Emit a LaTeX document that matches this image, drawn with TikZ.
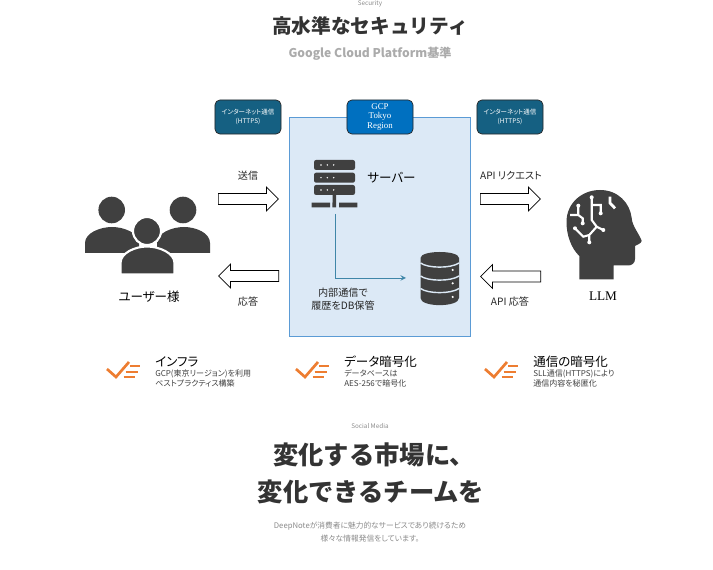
\documentclass[tikz,border=0pt]{standalone}
\usepackage{fontspec}
\setmainfont{Liberation Serif}
\newfontfamily\jpfont[RawFeature=+palt]{Noto Sans CJK JP}
\newfontfamily\headfont{Noto Sans CJK JP}
\usetikzlibrary{arrows,shapes.arrows}
\definecolor{headc}{HTML}{333333}
\definecolor{subc}{HTML}{ABABAB}
\definecolor{smallc}{HTML}{8A8A8A}
\definecolor{iconc}{HTML}{404040}
\definecolor{tealc}{HTML}{156082}
\definecolor{gcpc}{HTML}{0070C0}
\definecolor{regionc}{HTML}{DCE9F6}
\definecolor{regionlinec}{HTML}{5B9BD5}
\definecolor{linkc}{HTML}{3F86A8}
\definecolor{checkc}{HTML}{ED7D31}
\tikzset{
  sizedfont/.style={font=\fontsize{#1}{#1}\selectfont\jpfont},
  headfontsize/.style={font=\fontsize{#1}{#1}\selectfont\headfont\bfseries},
  blockarrow/.style={draw, fill=white, shape=single arrow, anchor=tail, inner sep=0.13cm, minimum height=1.5cm,
    single arrow head extend=0.16cm, single arrow tip angle=90, line width=0.5pt},
  linkbox/.style={draw=black!85, fill=tealc, rounded corners=3.5pt, minimum height=0.85cm, minimum width=1.65cm,
    inner sep=0pt, align=center, text=white, line width=0.5pt, font=\fontsize{4.6}{6.2}\selectfont\jpfont},
  label/.style={sizedfont=7.2, text=black!85, inner sep=0pt, align=center},
  titlelabel/.style={sizedfont=8.9, text=black, inner sep=0pt},
  itemhead/.style={sizedfont=8.9, text=black, anchor=west, inner sep=0pt},
  itemtext/.style={font=\fontsize{5.7}{7.1}\selectfont\jpfont, text=black!75, anchor=north west, inner sep=0pt, align=left},
  checkicon/.pic={
    \draw[checkc, line width=1.9pt] (0,0) -- (9,8) -- (22,-7);
    \draw[checkc, line width=1.5pt] (23,-3) -- (33,-3) (18.5,3) -- (31,3) (16.5,8) -- (28,8);
  },
}
\begin{document}
\begin{tikzpicture}[x=0.025cm,y=-0.025cm]
\useasboundingbox (0,0) rectangle (713,570);

% heading
\node[sizedfont=4.5, text=smallc] (securitytag) at (370,3.5) {Security};
\node[headfontsize=14, text=headc] (sectitle) at (370,26) {高水準なセキュリティ};
\node[sizedfont=8.6, text=subc] (secsub) at (370,53.5) {\bfseries Google Cloud Platform基準};

% region and the boxes on top
\node[draw=regionlinec, fill=regionc, line width=0.7pt, minimum width=4.51cm, minimum height=5.45cm, inner sep=0pt]
(region) at (380,227) {};
\node[linkbox] (linkleft) at (248,117) {インターネット通信\\(HTTPS)};
\node[linkbox] (linkright) at (510,117) {インターネット通信\\(HTTPS)};
\node[linkbox, fill=gcpc, font=\fontsize{6.3}{6.6}\selectfont\setmainfont{Liberation Serif}] (gcpbox) at (380,117)
{GCP\\Tokyo\\Region};

% block arrows
\node[blockarrow] (sendarrow) at (218,199) {};
\node[blockarrow, shape border rotate=180] (replyarrow) at (279,276) {};
\node[blockarrow] (apiarrow) at (480,199) {};
\node[blockarrow, shape border rotate=180] (apireplyarrow) at (541,276.5) {};
\node[label] (sendlabel) at (248,176) {送信};
\node[label] (replylabel) at (248,302) {応答};
\node[label] (apilabel) at (511,176) {API リクエスト};
\node[label] (apireplylabel) at (510,302) {API 応答};

% users
\fill[iconc] (85,253) -- (85,243) .. controls (85,233) and (100,227) .. (112,227)
  .. controls (124,227) and (139,233) .. (139,243) -- (139,253) -- cycle;
\fill[iconc] (157,253) -- (157,243) .. controls (157,233) and (172,227) .. (184,227)
  .. controls (196,227) and (210,233) .. (210,243) -- (210,253) -- cycle;
\fill[iconc] (111.7,210) circle (13.3) (183,210) circle (13.3);
\filldraw[iconc, draw=white, line width=1.5pt] (120.5,274.5) -- (120.5,263) .. controls (120.5,253) and (135,246.5) .. (147,246.5)
  .. controls (159,246.5) and (174.5,253) .. (174.5,263) -- (174.5,274.5) -- cycle;
\filldraw[iconc, draw=white, line width=1.5pt] (147,231) circle (14);
\node[titlelabel] (userlabel) at (149,297) {ユーザー様};

% server
\fill[iconc, rounded corners=1.5pt] (314,160) rectangle (355,170) (314,172.7) rectangle (355,182.7) (314,185) rectangle (355,195);
\fill[white] (321,165) circle (0.8) (327.3,165) circle (0.8) (333.7,165) circle (0.8)
  (321,177.7) circle (0.8) (327.3,177.7) circle (0.8) (333.7,177.7) circle (0.8)
  (321,190) circle (0.8) (327.3,190) circle (0.8) (333.7,190) circle (0.8);
\fill[iconc] (332.5,195) rectangle (336,203) (311.7,202.7) rectangle (330,207.3)
  (332.3,202.7) rectangle (336,207.3) (339,202.7) rectangle (357.3,207.3);
\coordinate (serverfoot) at (335,214);
\node[titlelabel] (serverlabel) at (391.5,178) {サーバー};

% database
\fill[iconc] (420.5,258) .. controls (420.5,250) and (459,250) .. (459,258) -- (459,298)
  .. controls (459,307.5) and (420.5,307.5) .. (420.5,298) -- cycle;
\draw[regionc, line width=1pt] (420.5,263) .. controls (428,268.5) and (451,268.5) .. (459,263)
  (420.5,276) .. controls (428,281.5) and (451,281.5) .. (459,276)
  (420.5,288.5) .. controls (428,294) and (451,294) .. (459,288.5);
\fill[white] (452.7,270) circle (1.2) (452.7,283.3) circle (1.2) (452.7,297) circle (1.2);
\coordinate (dbin) at (406,278);
\draw[linkc, line width=0.7pt, -stealth] (serverfoot) |- (dbin);
\node[label, font=\fontsize{7.2}{9.2}\selectfont\jpfont] (storelabel) at (343,299.5) {内部通信で\\履歴をDB保管};

% llm head
\fill[iconc] (579.3,279.5) -- (579.3,256) .. controls (571,248) and (566.5,235) .. (566.5,222)
  .. controls (566.5,203) and (582,190) .. (600,190) .. controls (618,190) and (630,203) .. (631.7,218)
  .. controls (632,226) and (640,235) .. (641.7,241) .. controls (641,244) and (636,245) .. (635,246)
  -- (635,259) .. controls (635,263) and (632,265.5) .. (628,265.5) -- (613.5,265.5) -- (613.5,279.5) -- cycle;
\draw[white, line width=1.5pt] (591.7,197.3) -- (591.7,220) -- (596.7,226.7) -- (603.3,230)
  (596.7,226.7) -- (589.3,235) -- (589.3,242.3) (589.3,235) -- (583.3,236.7) -- (575,228.3)
  (591.7,205) -- (600.7,205) -- (600.7,213.3)
  (578.3,205.7) -- (578.3,215) (570,215) -- (578.3,215) -- (582.7,218.3) -- (582.7,223.3);
\draw[white, line width=2pt] (610,196.7) -- (610,203) -- (615,208.3);
\fill[white] (591.7,197.3) circle (2) (603.3,230) circle (2) (589.3,242.3) circle (2) (575,228.3) circle (2)
  (600.7,213.3) circle (2) (578.3,205.7) circle (2) (582.7,223.3) circle (2);
\node[titlelabel, font=\fontsize{9.4}{9.4}\selectfont] (llmlabel) at (603,296) {LLM};

% the three items below
\pic at (107,369) {checkicon};
\node[itemhead] (infrahead) at (155,362) {インフラ};
\node[itemtext] (infratext) at (155,369.5) {GCP(東京リージョン)を利用\\ベストプラクティス構築};
\pic at (296,369) {checkicon};
\node[itemhead] (datahead) at (344,362) {データ暗号化};
\node[itemtext] (datatext) at (344,369.5) {データベースは\\AES-256で暗号化};
\pic at (485,369) {checkicon};
\node[itemhead] (commhead) at (533,362) {通信の暗号化};
\node[itemtext] (commtext) at (533,369.5) {SLL通信(HTTPS)により\\通信内容を秘匿化};

% lower heading
\node[sizedfont=4.5, text=smallc] (socialtag) at (370,426.5) {Social Media};
\node[headfontsize=18, text=headc] (changeone) at (374,455) {変化する市場に、};
\node[headfontsize=18, text=headc] (changetwo) at (371,492) {変化できるチームを};
\node[sizedfont=5.5, text=smallc] (notetop) at (370,526) {DeepNoteが消費者に魅力的なサービスであり続けるため};
\node[sizedfont=5.5, text=smallc] (notebottom) at (370,539) {様々な情報発信をしています。};

\end{tikzpicture}
\end{document}
